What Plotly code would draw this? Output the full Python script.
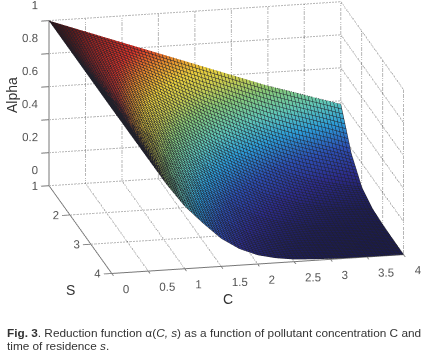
import plotly.graph_objects as go

C_VALUES = [0, 0.25, 0.5, 0.75, 1, 1.25, 1.5, 1.75, 2, 2.25, 2.5, 2.75, 3, 3.25, 3.5, 3.75, 4]
S_VALUES = [1, 1.5, 2, 2.5, 3, 3.5, 4]
ALPHA_S1 = [1, .96, .92, .88, .84, .80, .76, .72, .68, .64, .60, .56, .52, .485, .45, .415, .38]
ALPHA_S15 = [1, .94, .88, .82, .76, .70, .64, .58, .52, .47, .415, .365, .32, .28, .245, .21, .17]
ALPHA_S2 = [1, .92, .84, .76, .68, .60, .52, .45, .38, .32, .27, .22, .17, .13, .10, .075, .055]
ALPHA_S25 = [1, .90, .80, .70, .60, .50, .415, .335, .27, .21, .15, .11, .075, .052, .036, .024, .015]
ALPHA_S3 = [1, .88, .76, .64, .52, .415, .32, .245, .17, .115, .075, .049, .03, .019, .012, .008, .005]
ALPHA_S35 = [1, .86, .72, .58, .45, .335, .245, .16, .10, .06, .036, .021, .012, .007, .004, .003, .002]
ALPHA_S4 = [1, .84, .68, .52, .38, .27, .17, .10, .055, .03, .015, .009, .005, .003, .002, .001, 0]
ALPHA = [ALPHA_S1, ALPHA_S15, ALPHA_S2, ALPHA_S25, ALPHA_S3, ALPHA_S35, ALPHA_S4]

C_TICKS = [0, 0.5, 1, 1.5, 2, 2.5, 3, 3.5, 4]
S_TICKS = [1, 2, 3, 4]
Z_TICKS = [0, 0.2, 0.4, 0.6, 0.8, 1]
C_TICK_LABELS = ["0", "0.5", "1", "1.5", "2", "2.5", "3", "3.5", "4"]
S_TICK_LABELS = ["1", "2", "3", "4"]
Z_TICK_LABELS = ["0", "0.2", "0.4", "0.6", "0.8", "1"]

COLORSCALE = [[0, "#1a1a50"], [.1, "#2c2c8c"], [.2, "#2c50b4"], [.3, "#2c9cd8"], [.4, "#60c8b8"],
              [.5, "#88c878"], [.58, "#c8cc50"], [.65, "#ecd03c"], [.73, "#e88a2c"], [.8, "#d83428"],
              [.9, "#a02420"], [1, "#301010"]]
GRID = "#6e6e6e"
INK = "#555555"
W, H = 422, 354
CENTER = dict(x=-0.098, y=-0.045, z=-0.213)
VIEW = dict(x=-0.40, y=-1.86, z=0.60)
TITLE_FONT = dict(family="Liberation Sans", size=14, color="#333333")
CAPTION_FONT = dict(family="Liberation Sans", size=11.8, color="#333333")
TICK_FONT = dict(family="Liberation Sans", size=11.5, color=INK)

fig = go.Figure()
fig.add_trace(go.Surface(
    x=C_VALUES, y=S_VALUES, z=ALPHA, colorscale=COLORSCALE, cmin=0, cmax=1, showscale=False,
    lighting=dict(ambient=1, diffuse=0, specular=0, roughness=1, fresnel=0),
    contours=dict(
        x=dict(show=True, start=0, end=4, size=0.05, color="#20202a", width=1),
        y=dict(show=True, start=1, end=4, size=0.05, color="#20202a", width=1),
    ),
    hoverinfo="skip",
))

def grid_line(xs, ys, zs):
    fig.add_trace(go.Scatter3d(x=xs, y=ys, z=zs, mode="lines", showlegend=False, hoverinfo="skip",
                               line=dict(color=GRID, width=2, dash="dot")))

for c in C_TICKS:
    grid_line([c, c], [1, 4], [0, 0])
    grid_line([c, c], [1, 1], [0, 1])
for s in S_TICKS:
    grid_line([0, 4], [s, s], [0, 0])
    grid_line([4, 4], [s, s], [0, 1])
for z in Z_TICKS:
    grid_line([0, 4], [1, 1], [z, z])
    grid_line([4, 4], [1, 4], [z, z])

def tick_text(xs, ys, zs, labels, position):
    fig.add_trace(go.Scatter3d(x=xs, y=ys, z=zs, mode="text", text=labels, textposition=position, textfont=TICK_FONT,
                               showlegend=False, hoverinfo="skip"))

tick_text(C_TICKS, [4] * len(C_TICKS), [0] * len(C_TICKS), C_TICK_LABELS, "bottom right")
tick_text([0] * len(S_TICKS), S_TICKS, [0] * len(S_TICKS), S_TICK_LABELS, "middle left")
tick_text([0] * len(Z_TICKS), [1] * len(Z_TICKS), Z_TICKS, Z_TICK_LABELS, "top left")

axis_common = dict(showgrid=False, zeroline=False, showbackground=False, showline=True, linecolor="#777777",
                   linewidth=2, ticks="outside", tickcolor="#777777", tickwidth=2, ticklen=8, showticklabels=False,
                   showspikes=False, title=dict(text=""))

def caption(text, y):
    return dict(x=5 / W, y=1 - y / H, xref="paper", yref="paper", xanchor="left", yanchor="middle",
                showarrow=False, text=text, font=CAPTION_FONT)

def axis_title(text, x, y, angle=0):
    return dict(x=x / W, y=1 - y / H, xref="paper", yref="paper", xanchor="center", yanchor="middle",
                showarrow=False, text=text, textangle=angle, font=TITLE_FONT)

fig.update_layout(
    width=W, height=H, margin=dict(l=0, r=0, t=0, b=0), paper_bgcolor="white", showlegend=False,
    scene=dict(
        domain=dict(x=[0, 1], y=[0, 1]),
        aspectmode="manual", aspectratio=dict(x=1.686, y=1.686, z=0.978),
        camera=dict(eye=dict(x=CENTER["x"] + VIEW["x"], y=CENTER["y"] + VIEW["y"], z=CENTER["z"] + VIEW["z"]),
                    center=CENTER, up=dict(x=0, y=0, z=1),
                    projection=dict(type="orthographic")),
        xaxis=dict(range=[0, 4], tickvals=C_TICKS, **axis_common),
        yaxis=dict(range=[4, 1], tickvals=S_TICKS, **axis_common),
        zaxis=dict(range=[0, 1], tickvals=Z_TICKS, **axis_common),
    ),
    annotations=[
        axis_title("Alpha", 12, 95, -90),
        axis_title("S", 70, 290),
        axis_title("C", 228, 299),
        caption("<b>Fig. 3</b>. Reduction function α(<i>C, s</i>) as a function of pollutant concentration C and", 333),
        caption("time of residence <i>s</i>.", 346),
    ],
)
fig.write_html("out.html", config={"displayModeBar": False}, post_script="document.body.style.margin='0';")
